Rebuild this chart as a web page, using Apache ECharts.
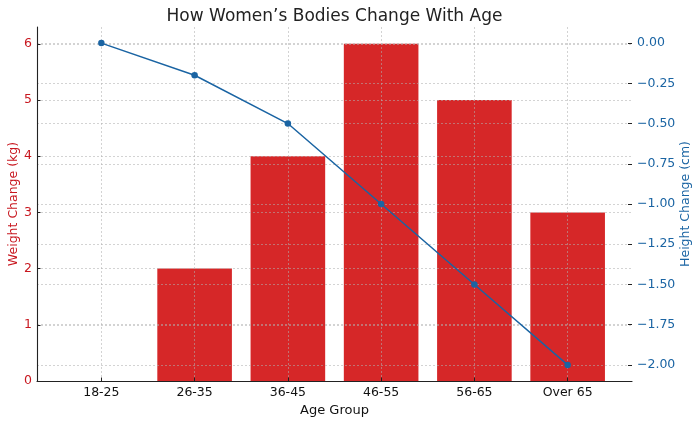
<!DOCTYPE html>
<html>
<head>
<meta charset="utf-8">
<script src="https://cdn.jsdelivr.net/npm/echarts@6/dist/echarts.min.js"></script>
<style>
  html, body { margin: 0; padding: 0; background: #fff; }
  #chart { width: 700px; height: 423px; }
</style>
</head>
<body>
<div id="chart"></div>
<script>
var ageGroups = ['18-25', '26-35', '36-45', '46-55', '56-65', 'Over 65'];
var weightChange = [0, 2, 4, 6, 5, 3];
var heightChange = [0, -0.2, -0.5, -1.0, -1.5, -2.0];
var weightTicks = [0, 1, 2, 3, 4, 5, 6];
var heightTicks = [-2, -1.75, -1.5, -1.25, -1, -0.75, -0.5, -0.25, 0];

var RED = '#d62728';
var RED_TEXT = '#c8171f';
var BLUE = '#1a64a3';
var FONT = 'DejaVu Sans';

var gridLine = {
    show: true,
    lineStyle: {color: '#b0b0b0', width: 0.8, type: [2, 2], opacity: 0.7}
};

function idxData(values) {
    var out = [];
    values.forEach(function (v, i) {
        out.push([i, v]);
    });
    return out;
}

var option = {
    animation: false,
    textStyle: {fontFamily: FONT},
    title: {
        text: 'How Women\u2019s Bodies Change With Age',
        left: 329.5,
        textAlign: 'center',
        top: 3,
        textStyle: {fontFamily: FONT, fontSize: 17, fontWeight: 'normal', color: '#222'}
    },
    grid: {left: 37, right: 68, top: 27, bottom: 42, outerBoundsMode: 'none', containLabel: false},
    xAxis: {
        type: 'value',
        min: -0.69,
        max: 5.69,
        z: 3,
        name: 'Age Group',
        nameLocation: 'middle',
        nameGap: 23,
        nameMoveOverlap: false,
        nameTextStyle: {fontFamily: FONT, fontSize: 13, color: '#111'},
        axisLine: {show: true, onZero: false, lineStyle: {color: '#222', width: 1.1}},
        axisTick: {show: true, inside: true, length: 3.5, customValues: [0, 1, 2, 3, 4, 5], lineStyle: {color: '#222'}},
        axisLabel: {
            customValues: [0, 1, 2, 3, 4, 5],
            margin: 5,
            fontFamily: FONT, fontSize: 12.5, color: '#111',
            formatter: function (v) { return ageGroups[Math.round(v)]; }
        },
        splitLine: gridLine
    },
    yAxis: [
        {
            type: 'value',
            min: 0,
            max: 6.3,
            z: 3,
            name: 'Weight Change (kg)',
            nameLocation: 'middle',
            nameGap: 17,
            nameMoveOverlap: false,
            nameTextStyle: {fontFamily: FONT, fontSize: 12.5, color: RED_TEXT},
            axisLine: {show: true, onZero: false, lineStyle: {color: '#222', width: 1.1}},
            axisTick: {show: true, inside: true, length: 3.5, customValues: weightTicks, lineStyle: {color: '#222'}},
            axisLabel: {customValues: weightTicks, margin: 5, fontFamily: FONT, fontSize: 12.5, color: RED_TEXT},
            splitLine: gridLine
        },
        {
            type: 'value',
            min: -2.1,
            max: 0.1,
            z: 3,
            position: 'right',
            name: 'Height Change (cm)',
            nameLocation: 'middle',
            nameGap: 47,
            nameMoveOverlap: false,
            nameTextStyle: {fontFamily: FONT, fontSize: 12.5, color: BLUE},
            axisLine: {show: false, onZero: false},
            axisTick: {show: true, inside: true, length: 4, customValues: heightTicks, lineStyle: {color: '#222'}},
            axisLabel: {
                customValues: heightTicks,
                margin: 5,
                fontFamily: FONT, fontSize: 12.5, color: BLUE,
                formatter: function (v) { return v.toFixed(2).replace('-', '\u2212'); }
            },
            splitLine: gridLine
        }
    ],
    series: [
        {
            name: 'Weight Change (kg)',
            type: 'bar',
            yAxisIndex: 0,
            barWidth: 74.6,
            data: idxData(weightChange),
            itemStyle: {color: RED, borderWidth: 0}
        },
        {
            name: 'Height Change (cm)',
            type: 'line',
            yAxisIndex: 1,
            z: 5,
            data: idxData(heightChange),
            symbol: 'circle',
            symbolSize: 6.5,
            lineStyle: {color: BLUE, width: 1.5},
            itemStyle: {color: BLUE}
        }
    ]
};

var chart = echarts.init(document.getElementById('chart'));
chart.setOption(option);
</script>
</body>
</html>
